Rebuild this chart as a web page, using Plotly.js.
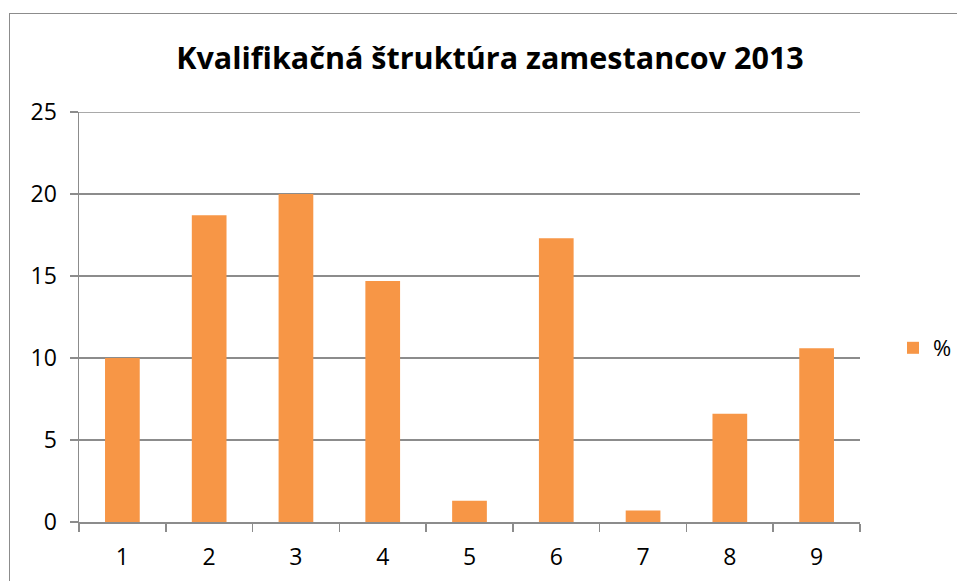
<!DOCTYPE html>
<html>
<head>
<meta charset="utf-8">
<script src="https://cdn.plot.ly/plotly-3.0.1.min.js"></script>
<style>
html,body{margin:0;padding:0;background:#fff;overflow:hidden;}
#frame{position:absolute;left:9px;top:13px;width:2000px;height:2000px;border-left:1px solid #8c8c8c;border-top:1px solid #8c8c8c;pointer-events:none;}
#chart{position:absolute;left:0;top:0;width:957px;height:581px;}
</style>
</head>
<body>
<div id="chart"></div>
<div id="frame"></div>
<script>
const categories = ["1","2","3","4","5","6","7","8","9"];
const values = [10.0, 18.7, 20.0, 14.7, 1.3, 17.3, 0.7, 6.6, 10.6];
const seriesName = "%";
const yTicks = [0,5,10,15,20,25];
const chartTitle = "Kvalifikačná štruktúra zamestancov 2013";

const fontFam = "Open Sans, Liberation Sans, sans-serif";
const trace = {
  type: "bar",
  x: categories,
  y: values,
  name: seriesName,
  marker: {color: "#f79646"},
  showlegend: true
};
const yMax = yTicks[yTicks.length - 1];
const layout = {
  width: 957, height: 581,
  margin: {l: 79, r: 97, t: 112, b: 59},
  paper_bgcolor: "rgba(0,0,0,0)",
  plot_bgcolor: "#fff",
  bargap: 0.6,
  font: {family: fontFam, size: 23, color: "#000"},
  title: {
    text: "<b>" + chartTitle + "</b>",
    font: {family: fontFam, size: 30.5, color: "#000"},
    x: 490/957, xref: "container", xanchor: "center",
    y: 1 - 58/581, yref: "container", yanchor: "middle"
  },
  xaxis: {
    type: "category",
    showline: true, linecolor: "#8c8c8c", linewidth: 1.5,
    ticks: "outside", tickson: "boundaries", ticklen: 8, tickcolor: "#8c8c8c", tickwidth: 1.5,
    showgrid: false,
    tickfont: {size: 23},
    ticklabelstandoff: 14
  },
  yaxis: {
    range: [0, yMax],
    tickvals: yTicks,
    showline: true, linecolor: "#8c8c8c", linewidth: 1.5,
    ticks: "outside", ticklen: 8, tickcolor: "#8c8c8c", tickwidth: 1.5,
    showgrid: true, gridcolor: "#8c8c8c", gridwidth: 1.5,
    zeroline: false,
    tickfont: {size: 23},
    ticklabelstandoff: 8
  },
  shapes: [{
    type: "line", xref: "paper", yref: "y", x0: 0, x1: 1, y0: yMax, y1: yMax,
    line: {color: "#8c8c8c", width: 1.5}, layer: "below"
  }],
  legend: {
    x: 893/957, xref: "container", xanchor: "left",
    y: 1 - 348/581, yref: "container", yanchor: "middle",
    font: {size: 22},
    itemwidth: 30
  }
};
Plotly.newPlot("chart", [trace], layout, {displayModeBar: false, staticPlot: true});
</script>
</body>
</html>
